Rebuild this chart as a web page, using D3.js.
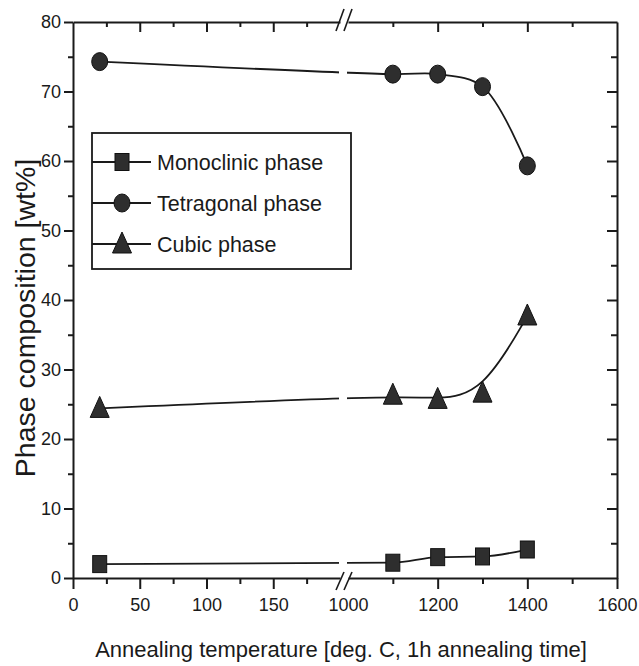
<!DOCTYPE html>
<html>
<head>
<meta charset="utf-8">
<script src="https://cdn.jsdelivr.net/npm/d3@7"></script>
<style>
  html, body { margin: 0; padding: 0; background: #fff; }
  svg { display: block; }
  text { font-family: "Liberation Sans", Arial, Helvetica, sans-serif; fill: #1a1a1a; }
</style>
</head>
<body>
<svg id="chart" width="639" height="666"></svg>
<script>
// ---- data ----
const temps = [20, 1100, 1200, 1300, 1400];
const monoclinic = [2.0, 2.2, 3.0, 3.1, 4.1];
const tetragonal = [74.3, 72.5, 72.5, 70.7, 59.3];
const cubic = [24.4, 26.3, 25.7, 26.6, 37.7];
const seriesNames = ["Monoclinic phase", "Tetragonal phase", "Cubic phase"];
const yTicksMajor = [0, 10, 20, 30, 40, 50, 60, 70, 80];
const yTicksMinor = [5, 15, 25, 35, 45, 55, 65, 75];
const xLowMajor = [0, 50, 100, 150];
const xLowMinor = [25, 75, 125, 175];
const xHighLabels = [1000, 1200, 1400, 1600];
const xHighMajor = [1200, 1400, 1600];
const xHighMinor = [1100, 1300, 1500];
const xTitle = "Annealing temperature [deg. C, 1h annealing time]";
const yTitle = "Phase composition [wt%]";

// ---- layout ----
const L = 73, R = 617, T = 22, B = 578;
const xLow = d3.scaleLinear().domain([0, 200]).range([L, 340]);
const xHigh = d3.scaleLinear().domain([1000, 1600]).range([348, R]);
const x = v => (v <= 200 ? xLow(v) : xHigh(v));
const y = d3.scaleLinear().domain([0, 80]).range([B, T]);
const ink = "#1a1a1a";
const fmt = d3.format("d");

const svg = d3.select("#chart");

function styleAxis(g) {
  g.selectAll("path.domain").attr("stroke", ink).attr("stroke-width", 2);
  g.selectAll(".tick line").attr("stroke", ink).attr("stroke-width", 2);
  g.selectAll("text").attr("font-size", 18).attr("fill", ink)
    .style("font-family", '"Liberation Sans", Arial, sans-serif');
}

// left axis
svg.append("g").attr("transform", `translate(${L},0)`)
  .call(d3.axisLeft(y).tickValues(yTicksMajor).tickSize(9).tickSizeOuter(0).tickPadding(3).tickFormat(fmt))
  .call(styleAxis);
svg.append("g").attr("transform", `translate(${L},0)`)
  .call(d3.axisLeft(y).tickValues(yTicksMinor).tickSize(5).tickFormat(""))
  .call(g => g.select(".domain").remove()).call(styleAxis);

// right axis (inward ticks)
svg.append("g").attr("transform", `translate(${R},0)`)
  .call(d3.axisLeft(y).tickValues(yTicksMajor.slice(1, -1)).tickSize(10).tickSizeOuter(0).tickFormat(""))
  .call(styleAxis);
svg.append("g").attr("transform", `translate(${R},0)`)
  .call(d3.axisLeft(y).tickValues(yTicksMinor).tickSize(6).tickFormat(""))
  .call(g => g.select(".domain").remove()).call(styleAxis);

// bottom axis, two segments
svg.append("g").attr("transform", `translate(0,${B})`)
  .call(d3.axisBottom(xLow).tickValues(xLowMajor).tickSize(11).tickSizeOuter(0).tickPadding(9).tickFormat(fmt))
  .call(styleAxis);
svg.append("g").attr("transform", `translate(0,${B})`)
  .call(d3.axisBottom(xLow).tickValues(xLowMinor).tickSize(6).tickFormat(""))
  .call(g => g.select(".domain").remove()).call(styleAxis);
svg.append("g").attr("transform", `translate(0,${B})`)
  .call(d3.axisBottom(xHigh).tickValues(xHighLabels).tickSize(11).tickSizeOuter(0).tickPadding(9).tickFormat(fmt))
  .call(g => g.selectAll(".tick").filter(d => !xHighMajor.includes(d)).select("line").remove())
  .call(styleAxis);
svg.append("g").attr("transform", `translate(0,${B})`)
  .call(d3.axisBottom(xHigh).tickValues(xHighMinor).tickSize(6).tickFormat(""))
  .call(g => g.select(".domain").remove()).call(styleAxis);

// top axis, two segments (inward ticks)
svg.append("g").attr("transform", `translate(0,${T})`)
  .call(d3.axisBottom(xLow).tickValues(xLowMajor.slice(1)).tickSize(10).tickSizeOuter(0).tickFormat(""))
  .call(styleAxis);
svg.append("g").attr("transform", `translate(0,${T})`)
  .call(d3.axisBottom(xLow).tickValues(xLowMinor).tickSize(5).tickFormat(""))
  .call(g => g.select(".domain").remove()).call(styleAxis);
svg.append("g").attr("transform", `translate(0,${T})`)
  .call(d3.axisBottom(xHigh).tickValues(xHighMajor.slice(0, -1)).tickSize(10).tickSizeOuter(0).tickFormat(""))
  .call(styleAxis);
svg.append("g").attr("transform", `translate(0,${T})`)
  .call(d3.axisBottom(xHigh).tickValues(xHighMinor).tickSize(5).tickFormat(""))
  .call(g => g.select(".domain").remove()).call(styleAxis);

// axis break marks
const xb = (xLow.range()[1] + xHigh.range()[0]) / 2;
[T, B].forEach(yy => {
  [-4, 4].forEach(off => {
    svg.append("line")
      .attr("x1", xb + off - 4).attr("y1", yy + (yy === T ? 9 : 12))
      .attr("x2", xb + off + 4).attr("y2", yy - (yy === T ? 13 : 6))
      .attr("stroke", ink).attr("stroke-width", 1.6);
  });
});

// clip for lines (gap at break)
const defs = svg.append("defs");
const cp = defs.append("clipPath").attr("id", "brk");
cp.append("rect").attr("x", 0).attr("y", 0).attr("width", 339).attr("height", 666);
cp.append("rect").attr("x", 347).attr("y", 0).attr("width", 300).attr("height", 666);

const series = [
  { name: seriesNames[0], vals: monoclinic, shape: "square", curve: d3.curveMonotoneX },
  { name: seriesNames[1], vals: tetragonal, shape: "circle", curve: d3.curveCatmullRom.alpha(0.5) },
  { name: seriesNames[2], vals: cubic, shape: "triangle", curve: d3.curveBasis }
];

const fill = "#2e2e2e";
function drawMarker(g, shape, cx, cy) {
  if (shape === "square") {
    g.append("rect").attr("x", cx - 7).attr("y", cy - 8.5).attr("width", 14).attr("height", 17)
      .attr("fill", fill).attr("stroke", "#111").attr("stroke-width", 1);
  } else if (shape === "circle") {
    g.append("ellipse").attr("cx", cx).attr("cy", cy).attr("rx", 8).attr("ry", 9)
      .attr("fill", fill).attr("stroke", "#111").attr("stroke-width", 1);
  } else {
    g.append("path").attr("d", `M${cx},${cy - 12} L${cx + 9.5},${cy + 9} L${cx - 9.5},${cy + 9} Z`)
      .attr("fill", fill).attr("stroke", "#111").attr("stroke-width", 1);
  }
}

series.forEach(s => {
  const pts = temps.map((t, i) => [x(t), y(s.vals[i])]);
  svg.append("path")
    .attr("d", d3.line().curve(s.curve)(pts))
    .attr("fill", "none").attr("stroke", ink).attr("stroke-width", 1.8)
    .attr("clip-path", "url(#brk)");
  const g = svg.append("g");
  pts.forEach(p => drawMarker(g, s.shape, p[0], p[1]));
});

// legend
const lg = svg.append("g");
lg.append("rect").attr("x", 92).attr("y", 133).attr("width", 259).attr("height", 136)
  .attr("fill", "#fff").attr("stroke", ink).attr("stroke-width", 1.8);
const rowY = [162, 203, 244];
series.forEach((s, i) => {
  const yy = rowY[i];
  lg.append("line").attr("x1", 92).attr("x2", 151).attr("y1", yy).attr("y2", yy)
    .attr("stroke", ink).attr("stroke-width", 1.8);
  drawMarker(lg, s.shape, 122, yy);
  lg.append("text").attr("x", 157).attr("y", yy + 8).attr("font-size", 21.5).text(s.name);
});

// titles
svg.append("text").attr("x", 341).attr("y", 657).attr("text-anchor", "middle")
  .attr("font-size", 22).text(xTitle);
svg.append("text").attr("transform", `translate(35,318) rotate(-90)`).attr("text-anchor", "middle")
  .attr("font-size", 28.5).text(yTitle);
</script>
</body>
</html>
